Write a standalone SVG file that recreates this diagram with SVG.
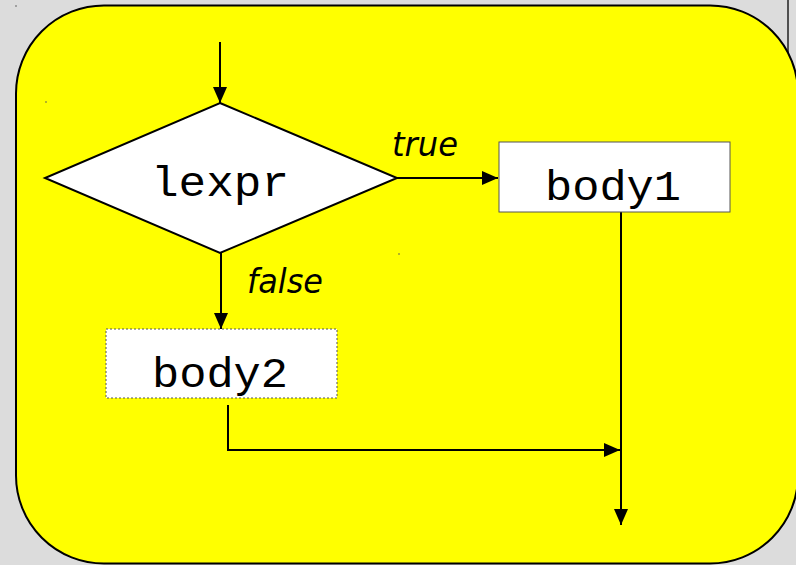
<svg xmlns="http://www.w3.org/2000/svg" width="796" height="565" viewBox="0 0 796 565">
<defs>
<style>
.node{fill:#ffffff;}
.mono{font-family:"Liberation Mono","Courier New",monospace;font-size:42px;fill:#000;text-anchor:middle;}
.lbl{font-family:"DejaVu Sans","Verdana",sans-serif;font-style:italic;font-size:33px;fill:#000;}
.conn{fill:none;stroke:#000;stroke-width:2;}
.speck{fill:#555;}
</style>
<marker id="arr" viewBox="0 0 16 14" refX="16" refY="7" markerWidth="16" markerHeight="14" markerUnits="userSpaceOnUse" orient="auto">
<path d="M0,0 L16,7 L0,14 Z" fill="#000"/>
</marker>
</defs>
<rect x="0" y="0" width="796" height="565" fill="#dcdcdc"/>
<line x1="788" y1="0" x2="788" y2="56" stroke="#222" stroke-width="1.5"/>
<circle class="speck" cx="16" cy="6" r="0.8"/>
<g id="frame">
<rect x="16" y="5.5" width="782" height="558" rx="88" ry="88" fill="#ffff00" stroke="#000" stroke-width="2"/>
</g>
<circle class="speck" cx="46" cy="102" r="0.8"/>
<circle class="speck" cx="399" cy="254" r="0.8"/>
<g id="connectors">
<line class="conn" x1="220" y1="42" x2="220" y2="103" marker-end="url(#arr)"/>
<line class="conn" x1="397" y1="178" x2="498" y2="178" marker-end="url(#arr)"/>
<line class="conn" x1="221" y1="253" x2="221" y2="329" marker-end="url(#arr)"/>
<polyline class="conn" points="228,405 228,450 620,450" marker-end="url(#arr)"/>
<line class="conn" x1="621" y1="209" x2="621" y2="525" marker-end="url(#arr)"/>
</g>
<g id="lexpr">
<polygon class="node" points="220,103 397,178 220,253 45,178" stroke="#000" stroke-width="2"/>
<text class="mono" x="220" y="196" textLength="138" lengthAdjust="spacingAndGlyphs">lexpr</text>
</g>
<g id="body1">
<rect class="node" x="499" y="142" width="231" height="70" stroke="#555" stroke-width="1"/>
<text class="mono" x="613" y="200" textLength="136" lengthAdjust="spacingAndGlyphs">body1</text>
</g>
<g id="body2">
<rect class="node" x="106" y="329" width="231" height="69" stroke="#555" stroke-width="1" stroke-dasharray="2,2"/>
<text class="mono" x="220" y="387" textLength="136" lengthAdjust="spacingAndGlyphs">body2</text>
</g>
<g id="labels">
<text class="lbl" x="392" y="156" textLength="66" lengthAdjust="spacingAndGlyphs">true</text>
<text class="lbl" x="247" y="293" textLength="76" lengthAdjust="spacingAndGlyphs">false</text>
</g>
</svg>
